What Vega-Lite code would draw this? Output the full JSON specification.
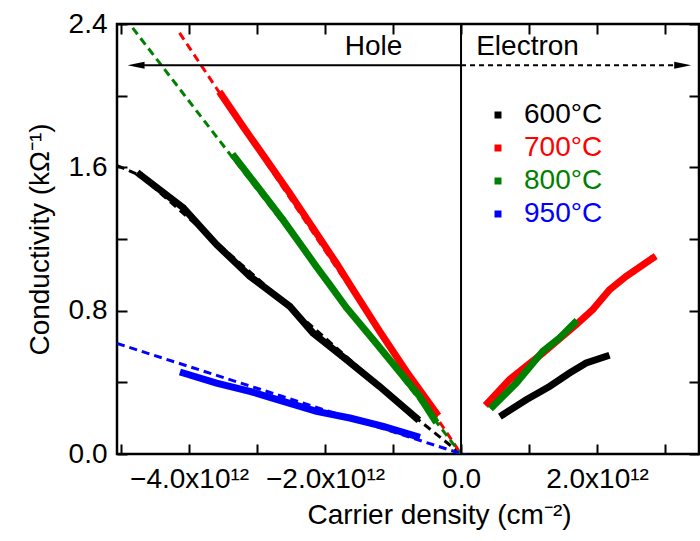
{
  "$schema": "https://vega.github.io/schema/vega-lite/v6.json",
  "width": 582,
  "height": 430,
  "autosize": "none",
  "padding": {"left": 117, "top": 24, "right": 1, "bottom": 87},
  "background": "white",
  "config": {
    "view": {"stroke": "black", "strokeWidth": 2.5},
    "font": "Liberation Sans",
    "axis": {"domain": false, "grid": false, "tickColor": "black", "tickWidth": 2, "labelColor": "black", "titleColor": "black", "labelFont": "Liberation Sans", "titleFont": "Liberation Sans", "titleFontWeight": "normal", "labelFontSize": 28, "titleFontSize": 28}
  },
  "datasets": {
    "measured": [
      {"series": "600°C", "part": "hole", "n": -4.72e12, "s": 1.559},
      {"series": "600°C", "part": "hole", "n": -4.085e12, "s": 1.374},
      {"series": "600°C", "part": "hole", "n": -3.596e12, "s": 1.169},
      {"series": "600°C", "part": "hole", "n": -3.106e12, "s": 0.992},
      {"series": "600°C", "part": "hole", "n": -2.518e12, "s": 0.824},
      {"series": "600°C", "part": "hole", "n": -2.179e12, "s": 0.676},
      {"series": "600°C", "part": "hole", "n": -1.688e12, "s": 0.527},
      {"series": "600°C", "part": "hole", "n": -1.199e12, "s": 0.377},
      {"series": "600°C", "part": "hole", "n": -0.659e12, "s": 0.201},
      {"series": "600°C", "part": "electron", "n": 0.615e12, "s": 0.219},
      {"series": "600°C", "part": "electron", "n": 0.959e12, "s": 0.303},
      {"series": "600°C", "part": "electron", "n": 1.301e12, "s": 0.377},
      {"series": "600°C", "part": "electron", "n": 1.596e12, "s": 0.452},
      {"series": "600°C", "part": "electron", "n": 1.841e12, "s": 0.508},
      {"series": "600°C", "part": "electron", "n": 2.135e12, "s": 0.545},
      {"series": "700°C", "part": "hole", "n": -3.526e12, "s": 2.006},
      {"series": "700°C", "part": "hole", "n": -3.209e12, "s": 1.829},
      {"series": "700°C", "part": "hole", "n": -2.865e12, "s": 1.643},
      {"series": "700°C", "part": "hole", "n": -2.522e12, "s": 1.457},
      {"series": "700°C", "part": "hole", "n": -2.179e12, "s": 1.262},
      {"series": "700°C", "part": "hole", "n": -1.835e12, "s": 1.066},
      {"series": "700°C", "part": "hole", "n": -1.591e12, "s": 0.919},
      {"series": "700°C", "part": "hole", "n": -1.199e12, "s": 0.686},
      {"series": "700°C", "part": "hole", "n": -0.806e12, "s": 0.462},
      {"series": "700°C", "part": "hole", "n": -0.365e12, "s": 0.229},
      {"series": "700°C", "part": "electron", "n": 0.394e12, "s": 0.285},
      {"series": "700°C", "part": "electron", "n": 0.713e12, "s": 0.415},
      {"series": "700°C", "part": "electron", "n": 1.203e12, "s": 0.564},
      {"series": "700°C", "part": "electron", "n": 1.694e12, "s": 0.722},
      {"series": "700°C", "part": "electron", "n": 1.938e12, "s": 0.806},
      {"series": "700°C", "part": "electron", "n": 2.184e12, "s": 0.917},
      {"series": "700°C", "part": "electron", "n": 2.429e12, "s": 0.992},
      {"series": "700°C", "part": "electron", "n": 2.821e12, "s": 1.094},
      {"series": "800°C", "part": "hole", "n": -3.331e12, "s": 1.658},
      {"series": "800°C", "part": "hole", "n": -3.11e12, "s": 1.55},
      {"series": "800°C", "part": "hole", "n": -2.865e12, "s": 1.429},
      {"series": "800°C", "part": "hole", "n": -2.621e12, "s": 1.308},
      {"series": "800°C", "part": "hole", "n": -2.375e12, "s": 1.178},
      {"series": "800°C", "part": "hole", "n": -2.129e12, "s": 1.047},
      {"series": "800°C", "part": "hole", "n": -1.934e12, "s": 0.947},
      {"series": "800°C", "part": "hole", "n": -1.688e12, "s": 0.818},
      {"series": "800°C", "part": "hole", "n": -1.297e12, "s": 0.64},
      {"series": "800°C", "part": "hole", "n": -0.953e12, "s": 0.481},
      {"series": "800°C", "part": "hole", "n": -0.61e12, "s": 0.322},
      {"series": "800°C", "part": "hole", "n": -0.39e12, "s": 0.192},
      {"series": "800°C", "part": "electron", "n": 0.468e12, "s": 0.266},
      {"series": "800°C", "part": "electron", "n": 0.812e12, "s": 0.396},
      {"series": "800°C", "part": "electron", "n": 1.203e12, "s": 0.573},
      {"series": "800°C", "part": "electron", "n": 1.449e12, "s": 0.648},
      {"series": "800°C", "part": "electron", "n": 1.669e12, "s": 0.731},
      {"series": "950°C", "part": "hole", "n": -4.085e12, "s": 0.452},
      {"series": "950°C", "part": "hole", "n": -3.596e12, "s": 0.396},
      {"series": "950°C", "part": "hole", "n": -3.106e12, "s": 0.35},
      {"series": "950°C", "part": "hole", "n": -2.615e12, "s": 0.294},
      {"series": "950°C", "part": "hole", "n": -2.125e12, "s": 0.238},
      {"series": "950°C", "part": "hole", "n": -1.635e12, "s": 0.201},
      {"series": "950°C", "part": "hole", "n": -1.144e12, "s": 0.154},
      {"series": "950°C", "part": "hole", "n": -0.654e12, "s": 0.098}
    ],
    "fits": [
      {"series": "600°C", "n": -5.06e12, "s": 1.61},
      {"series": "600°C", "n": -4.72e12, "s": 1.555},
      {"series": "600°C", "n": -0.659e12, "s": 0.201},
      {"series": "600°C", "n": 0, "s": 0},
      {"series": "700°C", "n": -4.14e12, "s": 2.35},
      {"series": "700°C", "n": 0, "s": 0},
      {"series": "800°C", "n": -4.83e12, "s": 2.378},
      {"series": "800°C", "n": 0, "s": 0},
      {"series": "950°C", "n": -5.06e12, "s": 0.617},
      {"series": "950°C", "n": 0.1e12, "s": -0.01}
    ],
    "labels": [
      {"label": "Hole", "n": -1.287e12, "s": 2.271},
      {"label": "Electron", "n": 0.978e12, "s": 2.271}
    ],
    "arrows": [
      {"dir": "hole", "n": 0, "n2": -4.8e12, "s": 2.17},
      {"dir": "electron", "n": 0, "n2": 3.3e12, "s": 2.17}
    ],
    "heads": [
      {"dir": "left", "n": -4.78e12, "s": 2.17},
      {"dir": "right", "n": 3.26e12, "s": 2.17}
    ]
  },
  "resolve": {"axis": {"x": "independent", "y": "independent"}},
  "layer": [
    {
      "data": {"name": "fits"},
      "mark": {"type": "line", "strokeWidth": 3, "strokeDash": [8, 5], "clip": true},
      "encoding": {
        "x": {"field": "n", "type": "quantitative", "scale": {"domain": [-5.06e12, 3.5e12], "nice": false, "zero": false},
          "axis": {"orient": "bottom", "values": [-5e12, -4e12, -3e12, -2e12, -1e12, 0, 1e12, 2e12, 3e12], "tickSize": -10,
            "labelPadding": 21, "labelExpr": "datum.value == 0 ? '0.0' : (round(datum.value/1e12) % 2 == 0 ? format(datum.value/1e12, '.1f') + 'x10¹²' : '')",
            "title": "Carrier density (cm⁻²)", "titlePadding": 8, "titleX": 322, "labelFlush": false, "labelOverlap": false}},
        "y": {"field": "s", "type": "quantitative", "scale": {"domain": [0, 2.4], "nice": false},
          "axis": {"orient": "left", "values": [0, 0.4, 0.8, 1.2, 1.6, 2.0, 2.4], "tickSize": -10, "labelPadding": 20,
            "labelExpr": "round(datum.value*10) % 8 == 0 ? format(datum.value, '.1f') : ''",
            "title": "Conductivity (kΩ⁻¹)", "titlePadding": 14, "labelFlush": false, "labelOverlap": false}},
        "stroke": {"field": "series", "type": "nominal", "scale": {"range": ["#000000", "#ff0000", "#008000", "#0000ff"]}, "legend": null},
        "detail": {"field": "series"}
      }
    },
    {
      "data": {"name": "measured"},
      "mark": {"type": "point", "shape": "square", "filled": true, "size": 25, "opacity": 1},
      "encoding": {
        "x": {"field": "n", "type": "quantitative", "axis": null},
        "y": {"field": "s", "type": "quantitative", "axis": null},
        "color": {"field": "series", "type": "nominal", "scale": {"domain": ["600°C", "700°C", "800°C", "950°C"], "range": ["#000000", "#ff0000", "#008000", "#0000ff"]},
          "legend": {"orient": "none", "legendX": 367, "legendY": 77, "title": null, "symbolType": "square", "symbolSize": 49,
            "symbolStrokeColor": "transparent", "symbolStrokeWidth": 0,
            "labelFontSize": 28, "labelFont": "Liberation Sans", "labelColor": {"expr": "scale('color', datum.value)"},
            "rowPadding": 5, "labelOffset": 12, "padding": 0}}
      }
    },
    {
      "data": {"name": "measured"},
      "mark": {"type": "line", "strokeWidth": 7, "strokeJoin": "miter", "strokeCap": "square"},
      "encoding": {
        "x": {"field": "n", "type": "quantitative", "axis": {"orient": "top", "values": [-5e12, -4e12, -3e12, -2e12, -1e12, 0, 1e12, 2e12, 3e12], "tickSize": -10, "labels": false, "title": null}},
        "y": {"field": "s", "type": "quantitative", "axis": {"orient": "right", "values": [0, 0.4, 0.8, 1.2, 1.6, 2.0, 2.4], "tickSize": -10, "labels": false, "title": null}},
        "stroke": {"field": "series", "type": "nominal", "legend": null},
        "detail": {"field": "part"},
        "order": {"field": "n"}
      }
    },
    {
      "data": {"values": [{"n": 0, "s": 0, "s2": 2.4}]},
      "mark": {"type": "rule", "color": "black", "strokeWidth": 2},
      "encoding": {"x": {"field": "n", "type": "quantitative", "axis": null}, "y": {"field": "s", "type": "quantitative", "axis": null}, "y2": {"field": "s2"}}
    },
    {
      "data": {"name": "arrows"},
      "mark": {"type": "rule", "color": "black", "strokeWidth": 2},
      "encoding": {
        "x": {"field": "n", "type": "quantitative", "axis": null},
        "x2": {"field": "n2"},
        "y": {"field": "s", "type": "quantitative", "axis": null},
        "strokeDash": {"field": "dir", "type": "nominal", "scale": {"domain": ["hole", "electron"], "range": [[1, 0], [5, 4]]}, "legend": null}
      }
    },
    {
      "data": {"name": "heads"},
      "mark": {"type": "point", "filled": true, "color": "black", "opacity": 1, "size": 289},
      "encoding": {
        "x": {"field": "n", "type": "quantitative", "axis": null},
        "y": {"field": "s", "type": "quantitative", "axis": null},
        "shape": {"field": "dir", "type": "nominal", "scale": {"domain": ["left", "right"], "range": ["M-1,0L1,-0.42L1,0.42Z", "M1,0L-1,-0.42L-1,0.42Z"]}, "legend": null}
      }
    },
    {
      "data": {"name": "labels"},
      "mark": {"type": "text", "fontSize": 28, "font": "Liberation Sans", "color": "black", "align": "center", "baseline": "middle"},
      "encoding": {
        "x": {"field": "n", "type": "quantitative", "axis": null},
        "y": {"field": "s", "type": "quantitative", "axis": null},
        "text": {"field": "label"}
      }
    }
  ]
}
